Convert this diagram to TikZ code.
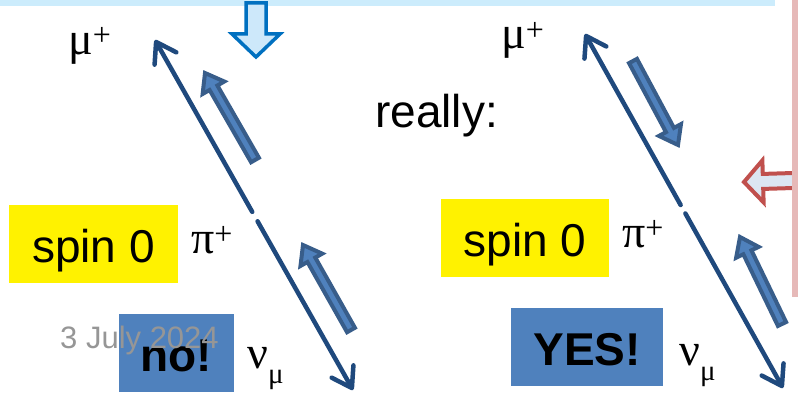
\documentclass[tikz,border=0pt]{standalone}
\usepackage{fontspec}
\setmainfont{Liberation Sans}
\newfontfamily\greek{Liberation Serif}
\usetikzlibrary{arrows.meta,calc}

\definecolor{linecol}{RGB}{31,73,125}
\definecolor{spinfill}{RGB}{79,129,189}
\definecolor{spinedge}{RGB}{56,93,138}
\definecolor{bandblue}{RGB}{204,236,252}
\definecolor{bandpink}{RGB}{230,185,184}
\definecolor{arrblue}{RGB}{0,112,192}
\definecolor{arrred}{RGB}{192,80,77}
\definecolor{palefill}{RGB}{220,230,242}
\definecolor{lightfill}{RGB}{205,232,250}
\definecolor{datecol}{RGB}{150,150,150}

% raised and lowered indices for the particle names
\newcommand{\hi}[1]{\raisebox{9pt}{\fontsize{32}{32}\selectfont #1}}
\newcommand{\lo}[1]{\raisebox{-15pt}{\fontsize{29}{29}\selectfont\greek #1}}

% block arrow: [style]{from}{to}{shaft half width}{head half width}{head length}
\newcommand{\blockarrow}[6][]{%
  \coordinate (ba-h) at ($(#3)!#6!(#2)$);
  \draw[#1] ($(#2)!#4!90:(#3)$) -- ($(ba-h)!#4!90:(#3)$) -- ($(ba-h)!#5!90:(#3)$) -- (#3)
    -- ($(ba-h)!#5!-90:(#3)$) -- ($(ba-h)!#4!-90:(#3)$) -- ($(#2)!#4!-90:(#3)$) -- cycle;}

\begin{document}
\begin{tikzpicture}[x=1pt, y=-1pt, line join=miter,
  every node/.style={inner sep=0pt},
  mainline/.style={linecol, line width=4.5pt, line cap=round,
    -{Straight Barb[length=19pt,width=25pt,round]}},
  spinarrow/.style={draw=spinedge, fill=spinfill, line width=4pt},
  box/.style={minimum height=78pt, text height=37pt, text depth=0pt,
    font=\fontsize{46}{50}\selectfont},
  label/.style={anchor=base west, font=\fontsize{46}{50}\selectfont\greek},
  bigtext/.style={anchor=base west, font=\fontsize{46}{50}\selectfont}]
\useasboundingbox (0,0) rectangle (798,396);

% frame bits of the slide
\fill[bandblue] (0,0) rectangle (775,6);
\blockarrow[draw=arrred, fill=palefill, line width=4pt]{810,180}{744,182}{7.5pt}{21pt}{19pt}
\fill[bandpink] (792,0) rectangle (798,297);
\blockarrow[draw=arrblue, fill=lightfill, line width=3.5pt]{256,3}{256,57}{10pt}{24pt}{23pt}

% left: the wrong picture
\coordinate (muL) at (155,40);
\coordinate (nuL) at (353,390);
\coordinate (gapLa) at ($(muL)!0.491!(nuL)$);
\coordinate (gapLb) at ($(muL)!0.518!(nuL)$);
\draw[mainline] (gapLa) -- (muL);
\draw[mainline] (gapLb) -- (nuL);
\coordinate (sLa) at (255,160);
\coordinate (sLb) at (205,73);
\coordinate (sLc) at (351,330);
\coordinate (sLd) at (303,245);
\blockarrow[spinarrow]{sLa}{sLb}{4.5pt}{12.5pt}{17pt}
\blockarrow[spinarrow]{sLc}{sLd}{4.5pt}{12.5pt}{17pt}

\node[label] (muLt) at (68,55) {μ\hi{+}};
\node[box, fill=yellow, minimum width=169pt] (spinL) at (93.5,244) {spin 0};
\node[label] (piLt) at (191,253) {π\hi{+}};
\node[box, fill=spinfill, minimum width=115pt, font=\fontsize{46}{50}\selectfont\bfseries] (noL) at (176.5,353) {no!};
\node[anchor=base west, text=datecol, font=\fontsize{31}{34}\selectfont] (date) at (60,348) {3 July 2024};
\node[label] (nuLt) at (247,368) {ν\lo{μ}};

% right: what really happens
\node[bigtext] (really) at (375,128) {really:};
\coordinate (muR) at (585,34);
\coordinate (nuR) at (783,388);
\coordinate (gapRa) at ($(muR)!0.483!(nuR)$);
\coordinate (gapRb) at ($(muR)!0.507!(nuR)$);
\draw[mainline] (gapRa) -- (muR);
\draw[mainline] (gapRb) -- (nuR);
\coordinate (sRa) at (633,61);
\coordinate (sRb) at (678,145);
\coordinate (sRc) at (782,324);
\coordinate (sRd) at (740,237);
\blockarrow[spinarrow]{sRa}{sRb}{4.5pt}{12.5pt}{17pt}
\blockarrow[spinarrow]{sRc}{sRd}{4.5pt}{12.5pt}{17pt}

\node[label] (muRt) at (501,49) {μ\hi{+}};
\node[box, fill=yellow, minimum width=168pt] (spinR) at (525,238) {spin 0};
\node[label] (piRt) at (622,247) {π\hi{+}};
\node[box, fill=spinfill, minimum width=152pt, font=\fontsize{46}{50}\selectfont\bfseries] (yesR) at (587,347) {YES!};
\node[label] (nuRt) at (679,365) {ν\lo{μ}};
\end{tikzpicture}
\end{document}
